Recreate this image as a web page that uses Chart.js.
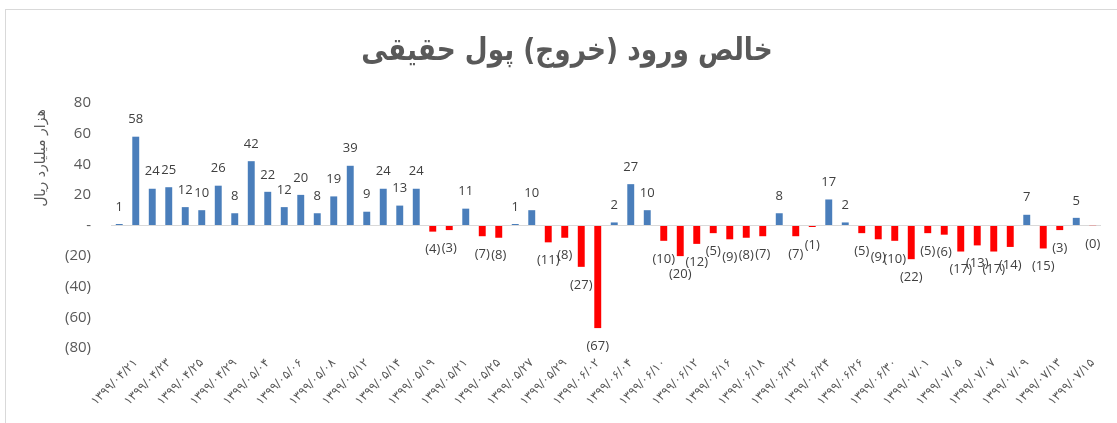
<!DOCTYPE html>
<html>
<head>
<meta charset="utf-8">
<script src="https://cdn.jsdelivr.net/npm/chart.js@4"></script>
<style>
  html, body { margin: 0; padding: 0; background: #fff; }
  #wrap { width: 1117px; height: 423px; position: relative; }
</style>
</head>
<body>
<div id="wrap"><canvas id="myChart"></canvas></div>
<script>
// dates of the bars (every other one is printed on the axis)
const dates = [
  '1399/04/18', '1399/04/21', '1399/04/22', '1399/04/23', '1399/04/24', '1399/04/25',
  '1399/04/28', '1399/04/29', '1399/04/31', '1399/05/04', '1399/05/05', '1399/05/06',
  '1399/05/07', '1399/05/08', '1399/05/11', '1399/05/12', '1399/05/13', '1399/05/14',
  '1399/05/18', '1399/05/19', '1399/05/20', '1399/05/21', '1399/05/22', '1399/05/25',
  '1399/05/26', '1399/05/27', '1399/05/28', '1399/05/29', '1399/06/01', '1399/06/02',
  '1399/06/03', '1399/06/04', '1399/06/05', '1399/06/10', '1399/06/11', '1399/06/12',
  '1399/06/15', '1399/06/16', '1399/06/17', '1399/06/18', '1399/06/19', '1399/06/22',
  '1399/06/23', '1399/06/24', '1399/06/25', '1399/06/26', '1399/06/29', '1399/06/30',
  '1399/06/31', '1399/07/01', '1399/07/02', '1399/07/05', '1399/07/06', '1399/07/07',
  '1399/07/08', '1399/07/09', '1399/07/12', '1399/07/13', '1399/07/14', '1399/07/15'
];

// net inflow (outflow) of retail money, thousand billion rial
const netFlow = [
  1, 58, 24, 25, 12, 10, 26, 8, 42, 22, 12, 20,
  8, 19, 39, 9, 24, 13, 24, -4, -3, 11, -7, -8,
  1, 10, -11, -8, -27, -67, 2, 27, 10, -10, -20, -12,
  -5, -9, -8, -7, 8, -7, -1, 17, 2, -5, -9, -10,
  -22, -5, -6, -17, -13, -17, -14, 7, -15, -3, 5, -0.2
];

const yTicks = [80, 60, 40, 20, 0, -20, -40, -60, -80];

const chartTitle = 'خالص ورود (خروج) پول حقیقی';
const yTitle = 'هزار میلیارد ریال';

const faDigits = '۰۱۲۳۴۵۶۷۸۹';
const toFa = s => String(s).replace(/\d/g, d => faDigits[d]);
const fmt = v => {
  const r = Math.round(Math.abs(v));
  if (v < 0) return '(' + r + ')';
  return v === 0 ? '-' : String(r);
};

const BLUE = '#4A7EBB';
const RED = '#FF0000';
const GREY = '#595959';

// frame, title and y axis caption
const decorations = {
  id: 'decorations',
  beforeDraw(chart) {
    const ctx = chart.ctx;
    ctx.save();
    ctx.strokeStyle = '#d9d9d9';
    ctx.lineWidth = 1;
    ctx.strokeRect(5.5, 9.5, 1200, 500);

    ctx.fillStyle = GREY;
    ctx.direction = 'rtl';
    ctx.textAlign = 'center';
    ctx.textBaseline = 'middle';
    // narrow, heavy title
    ctx.save();
    ctx.translate(567, 52);
    ctx.scale(0.85, 1);
    ctx.font = 'bold 31px "DejaVu Sans", sans-serif';
    ctx.fillText(chartTitle, 0, 0);
    ctx.restore();

    ctx.translate(41, 158);
    ctx.rotate(-Math.PI / 2);
    ctx.font = '14px "DejaVu Sans", sans-serif';
    ctx.fillText(yTitle, 0, 0);
    ctx.restore();
  }
};

// value labels above / below every bar
const valueLabels = {
  id: 'valueLabels',
  afterDatasetsDraw(chart) {
    const ctx = chart.ctx;
    const meta = chart.getDatasetMeta(0);
    ctx.save();
    ctx.fillStyle = '#404040';
    ctx.font = '13px "Open Sans", sans-serif';
    ctx.textAlign = 'center';
    ctx.textBaseline = 'middle';
    meta.data.forEach((bar, i) => {
      const v = netFlow[i];
      const txt = v < 0 ? '(' + Math.round(Math.abs(v)) + ')' : String(Math.round(v));
      const y = v >= 0 ? bar.y - 17 : bar.y + 18;
      ctx.fillText(txt, bar.x, y);
    });
    ctx.restore();
  }
};

const data = {
  labels: dates,
  datasets: [{
    data: netFlow,
    backgroundColor: netFlow.map(v => v >= 0 ? BLUE : RED),
    borderWidth: 0,
    barPercentage: 0.42,
    categoryPercentage: 1
  }]
};

const config = {
  type: 'bar',
  data,
  options: {
    responsive: true,
    maintainAspectRatio: false,
    animation: false,
    layout: { padding: { left: 0, right: 16, top: 103, bottom: 0 } },
    plugins: {
      legend: { display: false },
      tooltip: { enabled: false }
    },
    scales: {
      x: {
        afterFit: scale => { scale.height = 75; },
        border: { display: false },
        grid: { display: false, drawTicks: false },
        ticks: {
          autoSkip: false,
          maxRotation: 45,
          minRotation: 45,
          padding: 8,
          color: GREY,
          font: { family: '"DejaVu Sans", sans-serif', size: 12 },
          callback: function(val, index) {
            return index % 2 === 1 ? toFa(dates[index]) : '';
          }
        }
      },
      y: {
        min: -80,
        max: 80,
        afterFit: scale => { scale.width = 111; },
        afterBuildTicks: scale => { scale.ticks = yTicks.map(v => ({ value: v })); },
        border: { display: false },
        grid: {
          drawTicks: false,
          color: c => c.tick && c.tick.value === 0 ? '#d9d9d9' : 'rgba(0,0,0,0)',
          lineWidth: 1
        },
        ticks: {
          padding: 20,
          color: GREY,
          font: { family: '"Open Sans", sans-serif', size: 15 },
          callback: v => fmt(v)
        }
      }
    }
  },
  plugins: [decorations, valueLabels]
};

const myChart = new Chart(document.getElementById('myChart'), config);
</script>
</body>
</html>
